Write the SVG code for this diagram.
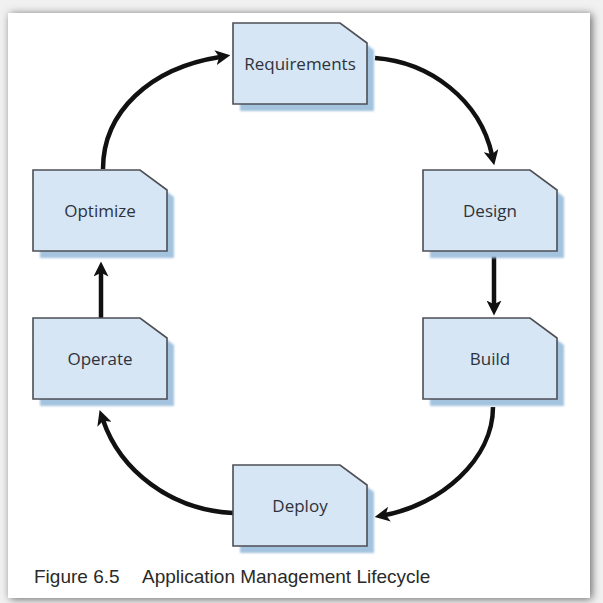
<svg xmlns="http://www.w3.org/2000/svg" width="603" height="603" viewBox="0 0 603 603">
  <defs>
    <filter id="panelShadow" x="-5%" y="-5%" width="110%" height="110%">
      <feGaussianBlur stdDeviation="4"/>
    </filter>
    <filter id="boxShadow" x="-10%" y="-10%" width="120%" height="120%">
      <feGaussianBlur stdDeviation="1"/>
    </filter>
    <marker id="arrow" viewBox="0 0 10 10" refX="3" refY="5" markerWidth="15" markerHeight="15" markerUnits="userSpaceOnUse" orient="auto">
      <path d="M0,0 L10,5 L0,10 L2.5,5 Z" fill="#111"/>
    </marker>
    <path id="box" d="M0,0 H107 L134,20 V81 H0 Z"/>
  </defs>
  <style>
    .shadow { fill: #a3c3df; filter: url(#boxShadow); }
    .box { fill: #d6e6f4; stroke: #4d4f55; stroke-width: 1.6; }
    .label { font-family: "Open Sans", "Liberation Sans", sans-serif; font-size: 17px; fill: #2e323c; text-anchor: middle; }
    .conn { fill: none; stroke: #111; stroke-width: 4.5; marker-end: url(#arrow); }
    .caption { font-family: "Liberation Sans", Arial, sans-serif; font-size: 19px; fill: #2a2a2a; }
  </style>

  <rect width="603" height="603" fill="#f1f1f1"/>
  <rect x="10" y="14" width="582" height="585" fill="#666" filter="url(#panelShadow)"/>
  <rect x="8" y="13" width="582" height="585" fill="#ffffff"/>

  <g id="connectors">
    <path class="conn" d="M103,169 C103,112 150,68 220,57"/>
    <path class="conn" d="M375,58 C430,62 480,100 492,155"/>
    <path class="conn" d="M494,256 L494,305"/>
    <path class="conn" d="M493,407 C493,460 440,505 385,515"/>
    <path class="conn" d="M233,513 C170,510 120,470 103,420"/>
    <path class="conn" d="M101,318 L101,272"/>
  </g>

  <g id="requirements" transform="translate(233,23)">
    <use href="#box" class="shadow" x="7" y="7"/>
    <use href="#box" class="box"/>
    <text class="label" x="67" y="47">Requirements</text>
  </g>
  <g id="design" transform="translate(423,170)">
    <use href="#box" class="shadow" x="7" y="7"/>
    <use href="#box" class="box"/>
    <text class="label" x="67" y="47">Design</text>
  </g>
  <g id="build" transform="translate(423,318)">
    <use href="#box" class="shadow" x="7" y="7"/>
    <use href="#box" class="box"/>
    <text class="label" x="67" y="47">Build</text>
  </g>
  <g id="deploy" transform="translate(233,465)">
    <use href="#box" class="shadow" x="7" y="7"/>
    <use href="#box" class="box"/>
    <text class="label" x="67" y="47">Deploy</text>
  </g>
  <g id="operate" transform="translate(33,318)">
    <use href="#box" class="shadow" x="7" y="7"/>
    <use href="#box" class="box"/>
    <text class="label" x="67" y="47">Operate</text>
  </g>
  <g id="optimize" transform="translate(33,170)">
    <use href="#box" class="shadow" x="7" y="7"/>
    <use href="#box" class="box"/>
    <text class="label" x="67" y="47">Optimize</text>
  </g>

  <g id="caption">
    <text class="caption" x="34" y="583">Figure 6.5</text>
    <text class="caption" x="142" y="583">Application Management Lifecycle</text>
  </g>
</svg>
